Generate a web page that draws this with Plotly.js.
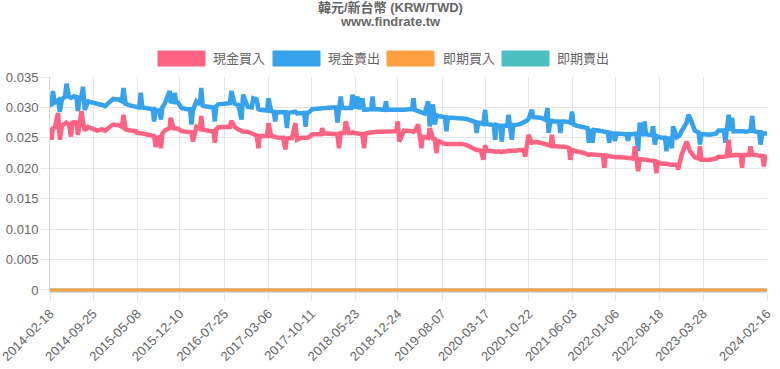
<!DOCTYPE html>
<html>
<head>
<meta charset="utf-8">
<script src="https://cdn.plot.ly/plotly-3.0.1.min.js"></script>
<style>html,body{margin:0;padding:0;background:#fff}#chart{width:780px;height:369px}</style>
</head>
<body>
<div id="chart"></div>
<script>
const seriesNames = ['現金買入', '現金賣出', '即期買入', '即期賣出'];
const tickDates = ['2014-02-18','2014-09-25','2015-05-08','2015-12-10','2016-07-25','2017-03-06','2017-10-11','2018-05-23','2018-12-24','2019-08-07','2020-03-17','2020-10-22','2021-06-03','2022-01-06','2022-08-18','2023-03-28','2024-02-16'];
const yTicks = [0, 0.005, 0.010, 0.015, 0.020, 0.025, 0.030, 0.035];
const yTickLabels = ['0', '0.005', '0.010', '0.015', '0.020', '0.025', '0.030', '0.035'];

const dates = [
'2014-02-18','2014-02-26','2014-03-05','2014-03-13','2014-03-31','2014-04-09','2014-04-20','2014-05-05','2014-05-13','2014-05-25','2014-06-05','2014-06-12','2014-06-20','2014-07-03','2014-07-10','2014-07-20','2014-07-28','2014-08-05','2014-08-14','2014-08-31','2014-09-20','2014-10-15','2014-11-10','2014-11-25','2014-12-15',
'2015-01-06','2015-02-01','2015-02-19','2015-02-27','2015-03-04','2015-03-10','2015-04-05','2015-05-01','2015-05-08','2015-05-18','2015-05-26','2015-06-03','2015-06-20','2015-07-15','2015-07-26','2015-08-02','2015-08-10','2015-08-19','2015-08-28','2015-09-06','2015-09-13','2015-09-25','2015-10-20','2015-10-25','2015-11-08','2015-11-15','2015-11-22','2015-12-02','2015-12-19',
'2016-01-15','2016-02-01','2016-02-08','2016-02-16','2016-03-04','2016-03-22','2016-03-29','2016-04-05','2016-04-15','2016-05-15','2016-05-30','2016-06-06','2016-06-13','2016-06-23','2016-07-20','2016-08-22','2016-08-29','2016-09-15','2016-10-03','2016-10-20','2016-10-28','2016-11-20','2016-12-11','2016-12-19',
'2017-01-05','2017-01-14','2017-01-21','2017-02-05','2017-02-27','2017-03-06','2017-03-20','2017-04-02','2017-04-09','2017-04-16','2017-04-26','2017-05-20','2017-05-31','2017-06-08','2017-06-15','2017-07-04','2017-07-21','2017-07-30','2017-08-20','2017-09-04','2017-09-11','2017-09-18','2017-09-28','2017-10-15','2017-11-10','2017-11-28','2017-12-05','2017-12-12','2017-12-22',
'2018-01-20','2018-02-13','2018-02-20','2018-02-28','2018-03-09','2018-03-16','2018-03-27','2018-04-03','2018-04-20','2018-05-01','2018-05-08','2018-05-20','2018-06-02','2018-06-10','2018-06-27','2018-07-06','2018-07-13','2018-07-25','2018-08-11','2018-08-18','2018-08-25','2018-09-10','2018-10-05','2018-10-18','2018-10-25','2018-11-01','2018-11-20','2018-12-17','2018-12-24',
'2019-01-01','2019-01-25','2019-02-20','2019-03-07','2019-03-14','2019-03-21','2019-04-07','2019-04-17','2019-04-24','2019-04-30','2019-05-10','2019-05-28','2019-06-05','2019-06-22','2019-07-01','2019-07-09','2019-07-18','2019-08-10','2019-08-22','2019-08-29','2019-09-05','2019-09-25','2019-10-20','2019-11-15','2019-12-10',
'2020-01-05','2020-01-23','2020-01-30','2020-02-06','2020-02-20','2020-03-04','2020-03-13','2020-03-20','2020-04-05','2020-04-26','2020-05-03','2020-05-10','2020-05-20','2020-05-30','2020-06-06','2020-06-13','2020-06-25','2020-07-03','2020-07-10','2020-07-17','2020-07-27','2020-08-03','2020-08-13','2020-09-10','2020-09-26','2020-10-03','2020-10-10','2020-10-20','2020-11-06','2020-11-13','2020-11-25','2020-12-20',
'2021-01-13','2021-01-25','2021-01-30','2021-02-09','2021-02-16','2021-02-23','2021-03-10','2021-03-24','2021-03-31','2021-04-07','2021-04-25','2021-05-14','2021-05-21','2021-05-30','2021-06-06','2021-06-20','2021-07-20','2021-08-16','2021-08-23','2021-09-01','2021-09-11','2021-09-18','2021-10-10','2021-11-03','2021-11-10','2021-11-17','2021-11-28','2021-12-05','2021-12-12','2021-12-25',
'2022-01-03','2022-01-10','2022-02-05','2022-03-03','2022-03-10','2022-03-17','2022-04-01','2022-04-07','2022-04-14','2022-04-22','2022-05-01','2022-05-09','2022-05-20','2022-05-27','2022-06-03','2022-06-10','2022-06-25','2022-07-09','2022-07-16','2022-07-25','2022-08-02','2022-08-09','2022-08-27','2022-09-15','2022-09-22','2022-09-29','2022-10-10','2022-10-20','2022-10-26','2022-11-14','2022-11-21','2022-11-28','2022-12-08',
'2023-01-03','2023-01-12','2023-01-20','2023-02-14','2023-03-05','2023-03-12','2023-03-19','2023-04-01','2023-05-01','2023-06-01','2023-06-14','2023-07-12','2023-07-19','2023-07-26','2023-08-05','2023-08-12','2023-08-22','2023-08-29','2023-09-08','2023-10-05','2023-10-12','2023-10-19','2023-11-05','2023-11-17','2023-11-24','2023-12-03','2023-12-10','2023-12-25',
'2024-01-07','2024-01-14','2024-01-24','2024-01-31','2024-02-07','2024-02-16'];

const cashSell = [
0.0305,0.0303,0.0327,0.0308,0.0312,0.0293,0.0314,0.0317,0.0339,0.0318,0.0316,0.0317,0.0318,0.0317,0.0294,0.0316,0.0318,0.0334,0.0296,0.0310,0.0309,0.0306,0.0304,0.0302,0.0308,
0.0314,0.0313,0.0310,0.0332,0.0308,0.0306,0.0303,0.0302,0.0300,0.0300,0.0324,0.0300,0.0299,0.0297,0.0297,0.0277,0.0296,0.0294,0.0295,0.0280,0.0300,0.0306,0.0327,0.0310,0.0309,0.0324,0.0309,0.0308,0.0299,
0.0297,0.0297,0.0272,0.0296,0.0310,0.0305,0.0332,0.0303,0.0302,0.0300,0.0300,0.0277,0.0302,0.0305,0.0306,0.0307,0.0327,0.0306,0.0304,0.0280,0.0321,0.0301,0.0300,0.0315,
0.0313,0.0297,0.0296,0.0296,0.0295,0.0315,0.0294,0.0293,0.0277,0.0292,0.0292,0.0291,0.0292,0.0266,0.0291,0.0292,0.0293,0.0290,0.0291,0.0291,0.0268,0.0291,0.0292,0.0297,0.0298,0.0298,0.0298,0.0298,0.0299,
0.0300,0.0300,0.0275,0.0298,0.0318,0.0299,0.0299,0.0300,0.0299,0.0299,0.0321,0.0298,0.0318,0.0297,0.0315,0.0296,0.0296,0.0297,0.0297,0.0318,0.0297,0.0297,0.0296,0.0296,0.0310,0.0296,0.0296,0.0296,0.0296,
0.0295,0.0296,0.0297,0.0297,0.0315,0.0296,0.0294,0.0292,0.0291,0.0291,0.0290,0.0310,0.0269,0.0305,0.0272,0.0287,0.0286,0.0284,0.0284,0.0261,0.0283,0.0283,0.0283,0.0282,0.0281,
0.0277,0.0276,0.0258,0.0275,0.0274,0.0273,0.0296,0.0273,0.0272,0.0271,0.0247,0.0271,0.0270,0.0270,0.0244,0.0270,0.0270,0.0270,0.0288,0.0271,0.0247,0.0271,0.0271,0.0273,0.0275,0.0276,0.0278,0.0281,0.0296,0.0284,0.0284,0.0283,
0.0280,0.0299,0.0258,0.0278,0.0278,0.0277,0.0277,0.0277,0.0258,0.0277,0.0277,0.0276,0.0275,0.0293,0.0272,0.0270,0.0267,0.0266,0.0242,0.0265,0.0242,0.0263,0.0262,0.0261,0.0261,0.0260,0.0259,0.0242,0.0258,0.0257,
0.0245,0.0257,0.0256,0.0256,0.0245,0.0256,0.0256,0.0256,0.0257,0.0257,0.0228,0.0275,0.0256,0.0256,0.0277,0.0256,0.0255,0.0255,0.0269,0.0239,0.0253,0.0252,0.0250,0.0250,0.0228,0.0249,0.0249,0.0233,0.0269,0.0251,0.0252,0.0254,0.0261,
0.0275,0.0288,0.0283,0.0262,0.0259,0.0239,0.0256,0.0256,0.0255,0.0257,0.0262,0.0262,0.0242,0.0262,0.0288,0.0262,0.0283,0.0261,0.0261,0.0262,0.0262,0.0261,0.0260,0.0261,0.0262,0.0286,0.0261,0.0260,
0.0259,0.0239,0.0258,0.0257,0.0257,0.0257];

const cashBuy = [
0.0266,0.0247,0.0268,0.0265,0.0291,0.0247,0.0270,0.0274,0.0275,0.0272,0.0252,0.0275,0.0276,0.0275,0.0255,0.0274,0.0294,0.0276,0.0262,0.0268,0.0266,0.0262,0.0264,0.0262,0.0267,
0.0272,0.0271,0.0268,0.0288,0.0266,0.0264,0.0262,0.0261,0.0258,0.0258,0.0257,0.0257,0.0256,0.0255,0.0255,0.0253,0.0235,0.0250,0.0251,0.0233,0.0257,0.0262,0.0266,0.0283,0.0266,0.0266,0.0266,0.0265,0.0261,
0.0260,0.0260,0.0259,0.0244,0.0268,0.0265,0.0286,0.0264,0.0263,0.0261,0.0261,0.0242,0.0264,0.0267,0.0268,0.0268,0.0278,0.0268,0.0264,0.0261,0.0260,0.0260,0.0258,0.0256,
0.0254,0.0233,0.0253,0.0253,0.0253,0.0274,0.0253,0.0252,0.0251,0.0251,0.0250,0.0250,0.0231,0.0249,0.0249,0.0250,0.0274,0.0247,0.0250,0.0250,0.0249,0.0250,0.0251,0.0256,0.0256,0.0256,0.0266,0.0257,0.0257,
0.0257,0.0257,0.0256,0.0233,0.0258,0.0258,0.0258,0.0277,0.0258,0.0258,0.0259,0.0258,0.0257,0.0257,0.0256,0.0233,0.0257,0.0258,0.0259,0.0259,0.0259,0.0260,0.0260,0.0260,0.0261,0.0261,0.0261,0.0261,0.0277,
0.0244,0.0262,0.0262,0.0261,0.0260,0.0261,0.0272,0.0254,0.0233,0.0252,0.0251,0.0250,0.0266,0.0249,0.0248,0.0225,0.0245,0.0241,0.0240,0.0240,0.0240,0.0240,0.0241,0.0240,0.0238,
0.0233,0.0231,0.0230,0.0230,0.0229,0.0214,0.0238,0.0229,0.0229,0.0228,0.0227,0.0228,0.0228,0.0227,0.0227,0.0228,0.0228,0.0228,0.0229,0.0229,0.0228,0.0229,0.0229,0.0230,0.0230,0.0219,0.0235,0.0255,0.0242,0.0243,0.0243,0.0242,
0.0239,0.0238,0.0237,0.0237,0.0255,0.0236,0.0236,0.0236,0.0235,0.0235,0.0235,0.0233,0.0214,0.0230,0.0229,0.0228,0.0226,0.0223,0.0222,0.0223,0.0223,0.0223,0.0222,0.0221,0.0201,0.0221,0.0220,0.0220,0.0220,0.0219,
0.0218,0.0218,0.0218,0.0217,0.0217,0.0217,0.0216,0.0216,0.0236,0.0215,0.0195,0.0215,0.0214,0.0214,0.0214,0.0214,0.0213,0.0213,0.0213,0.0212,0.0192,0.0210,0.0208,0.0208,0.0207,0.0207,0.0206,0.0206,0.0206,0.0206,0.0198,0.0212,0.0222,
0.0244,0.0235,0.0228,0.0218,0.0216,0.0236,0.0214,0.0214,0.0214,0.0216,0.0219,0.0219,0.0220,0.0220,0.0247,0.0221,0.0221,0.0222,0.0222,0.0222,0.0201,0.0222,0.0222,0.0222,0.0236,0.0223,0.0222,0.0221,
0.0221,0.0220,0.0220,0.0203,0.0219,0.0219];

const spotDates = ['2014-02-18', '2024-02-16'];
const spotBuy = [0, 0];
const spotSell = [0, 0];

const colors = ['rgb(255,99,132)', 'rgb(54,162,235)', 'rgb(255,159,64)', 'rgb(75,192,192)'];

const W = 780, H = 369, ML = 50, MR = 13, MT = 77, MB = 77;
const PW = W - ML - MR, PH = H - MT - MB;
const xp = x => (x - ML) / PW;
const yp = y => (H - MB - y) / PH;
const FONT = '"Liberation Sans", Arial, "Noto Sans CJK TC", sans-serif';

const traces = [
  {x: spotDates, y: spotSell, name: seriesNames[3], type: 'scatter', mode: 'lines', line: {color: colors[3], width: 3}},
  {x: spotDates, y: spotBuy, name: seriesNames[2], type: 'scatter', mode: 'lines', line: {color: colors[2], width: 3}},
  {x: dates, y: cashSell, name: seriesNames[1], type: 'scatter', mode: 'lines', line: {color: colors[1], width: 4.5}},
  {x: dates, y: cashBuy, name: seriesNames[0], type: 'scatter', mode: 'lines', line: {color: colors[0], width: 4.5}}
];

const legendBoxes = [[158, 205], [273, 320], [387, 434], [502, 549]];
const legendTextX = [211, 326, 441, 555];
const shapes = legendBoxes.map((b, i) => ({
  type: 'rect', xref: 'paper', yref: 'paper',
  x0: xp(b[0]), x1: xp(b[1]), y0: yp(66), y1: yp(51),
  fillcolor: colors[i], line: {color: colors[i], width: 1}
}));
const annotations = legendTextX.map((x, i) => ({
  xref: 'paper', yref: 'paper', x: xp(x), y: yp(58.5), xanchor: 'left', yanchor: 'middle',
  text: seriesNames[i], showarrow: false, font: {family: FONT, size: 13, color: '#666'}
}));
annotations.push({xref: 'paper', yref: 'paper', x: xp(390), y: yp(7.5), xanchor: 'center', yanchor: 'middle',
  text: '<b>韓元/新台幣 (KRW/TWD)</b>', showarrow: false, font: {family: FONT, size: 13, color: '#666'}});
annotations.push({xref: 'paper', yref: 'paper', x: xp(390), y: yp(21.5), xanchor: 'center', yanchor: 'middle',
  text: '<b>www.findrate.tw</b>', showarrow: false, font: {family: FONT, size: 13, color: '#666'}});

const layout = {
  width: W, height: H,
  margin: {l: ML, r: MR, t: MT, b: MB, pad: 0},
  paper_bgcolor: '#fff', plot_bgcolor: '#fff',
  showlegend: false,
  font: {family: FONT, size: 13, color: '#666'},
  xaxis: {
    type: 'date', range: ['2014-02-18', '2024-02-16'],
    tickmode: 'array', tickvals: tickDates, ticktext: tickDates, tickangle: -45,
    ticklabeloverflow: 'allow',
    showgrid: true, gridcolor: '#e6e6e6', gridwidth: 1,
    ticks: 'outside', ticklen: 8, tickcolor: '#e6e6e6',
    showline: true, linecolor: '#d9d9d9', zeroline: false, mirror: false,
    tickfont: {family: FONT, size: 13, color: '#666'}
  },
  yaxis: {
    range: [-0.00033, 0.035],
    tickmode: 'array', tickvals: yTicks, ticktext: yTickLabels,
    showgrid: true, gridcolor: '#e6e6e6', gridwidth: 1,
    ticks: 'outside', ticklen: 8, tickcolor: '#e6e6e6',
    showline: true, linecolor: '#d9d9d9', zeroline: false,
    tickfont: {family: FONT, size: 13, color: '#666'}
  },
  shapes: shapes,
  annotations: annotations
};

Plotly.newPlot('chart', traces, layout, {staticPlot: true, displayModeBar: false});
</script>
</body>
</html>
